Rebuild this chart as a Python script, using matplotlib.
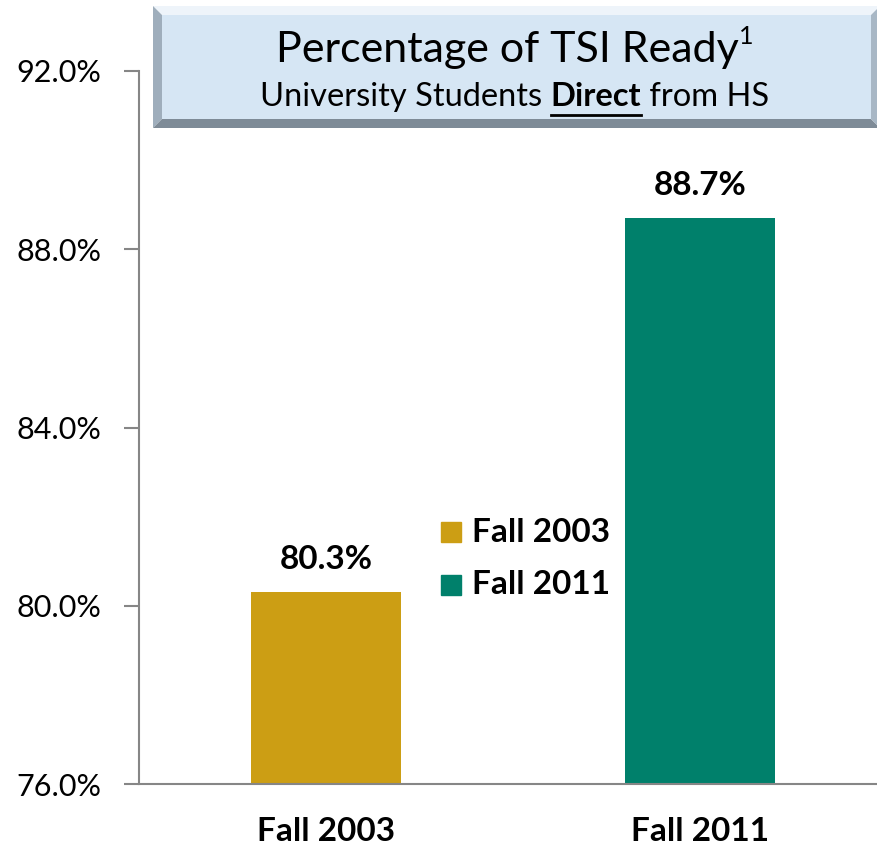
import numpy as np
import matplotlib.pyplot as plt
from matplotlib.patches import Polygon, Rectangle
from matplotlib.lines import Line2D

# data
categories = ['Fall 2003', 'Fall 2011']
values = [80.3, 88.7]
bar_labels = ['80.3%', '88.7%']
colors = ['#CC9E14', '#00806B']
yticks = [76, 80, 84, 88, 92]

W, H = 878, 849
FONT = 'Lato'


def fx(x):
    return x / W


def fy(y):
    return 1 - y / H


def main():
    fig = plt.figure(figsize=(W / 100, H / 100), dpi=100)
    ax = fig.add_axes([fx(139), fy(784), 748 / W, (784 - 71) / H])

    x = np.arange(len(categories))
    ax.bar(x, values, width=0.4, color=colors, bottom=0)
    ax.set_ylim(76, 92)
    ax.set_xlim(-0.5, 1.5)
    ax.set_yticks(yticks)
    ax.set_yticklabels([f'{v:.1f}%' for v in yticks], fontsize=22, family=FONT)
    ax.set_xticks(x)
    ax.set_xticklabels(categories, fontsize=24, family=FONT, fontweight='bold')
    ax.tick_params(axis='y', length=11, color='#868686', width=1.5, pad=16)
    ax.tick_params(axis='x', length=0, pad=24)
    for s in ['top', 'right']:
        ax.spines[s].set_visible(False)
    for s in ['left', 'bottom']:
        ax.spines[s].set_color('#868686')
        ax.spines[s].set_linewidth(1.5)

    for xi, v, lab in zip(x, values, bar_labels):
        ax.annotate(lab, (xi, v), xytext=(0, 33 * 0.72), textcoords='offset points',
                    ha='center', va='center', fontsize=24, family=FONT, fontweight='bold')

    # legend
    for i, (c, lab) in enumerate(zip(colors, categories)):
        yc = 532 + i * 53
        fig.patches.append(Rectangle((fx(441), fy(yc + 10)), 20 / W, 20 / H,
                                     transform=fig.transFigure, color=c))
        fig.text(fx(472), fy(yc), lab, fontsize=24, family=FONT, fontweight='bold',
                 va='center', ha='left')

    # title box with bevel
    x0, x1, y0, y1, b = 153, 880, 6, 128, 9
    pts = lambda lst: [(fx(a), fy(c)) for a, c in lst]
    faces = [
        ([(x0, y0), (x1, y0), (x1 - b, y0 + b), (x0 + b, y0 + b)], '#EEF4FA'),
        ([(x0, y0), (x0 + b, y0 + b), (x0 + b, y1 - b), (x0, y1)], '#9FAEBC'),
        ([(x0, y1), (x0 + b, y1 - b), (x1 - b, y1 - b), (x1, y1)], '#7E8B97'),
        ([(x1, y0), (x1, y1), (x1 - b, y1 - b), (x1 - b, y0 + b)], '#A8B7C5'),
    ]
    for p, c in faces:
        fig.patches.append(Polygon(pts(p), closed=True, transform=fig.transFigure,
                                   facecolor=c, edgecolor='none', zorder=5))
    fig.patches.append(Rectangle((fx(x0 + b), fy(y1 - b)), (x1 - x0 - 2 * b) / W,
                                 (y1 - y0 - 2 * b) / H, transform=fig.transFigure,
                                 facecolor='#D6E6F4', edgecolor='none', zorder=5))

    # title text (built piecewise)
    cx = 515
    renderer = fig.canvas.get_renderer()

    def width(t):
        return t.get_window_extent(renderer).width

    t1 = fig.text(0, fy(50), 'Percentage of TSI Ready', fontsize=31, family=FONT,
                  va='center', ha='left', zorder=6)
    t1s = fig.text(0, fy(36), '1', fontsize=18, family=FONT, va='center', ha='left', zorder=6)
    w1, w1s = width(t1), width(t1s)
    start = cx - (w1 + w1s) / 2
    t1.set_x(fx(start))
    t1s.set_x(fx(start + w1))

    parts = [('University Students ', 'normal'), ('Direct', 'bold'), (' from HS', 'normal')]
    texts = [fig.text(0, fy(97), p, fontsize=23.5, family=FONT, fontweight=wt,
                      va='center', ha='left', zorder=6) for p, wt in parts]
    ws = [width(t) for t in texts]
    pos = cx - sum(ws) / 2
    for t, w in zip(texts, ws):
        t.set_x(fx(pos))
        if t.get_text() == 'Direct':
            fig.lines.append(Line2D([fx(pos), fx(pos + w)], [fy(115), fy(115)],
                                    transform=fig.transFigure, color='black', lw=2, zorder=6))
        pos += w

    plt.savefig('out.png', dpi=100)


if __name__ == '__main__':
    main()
